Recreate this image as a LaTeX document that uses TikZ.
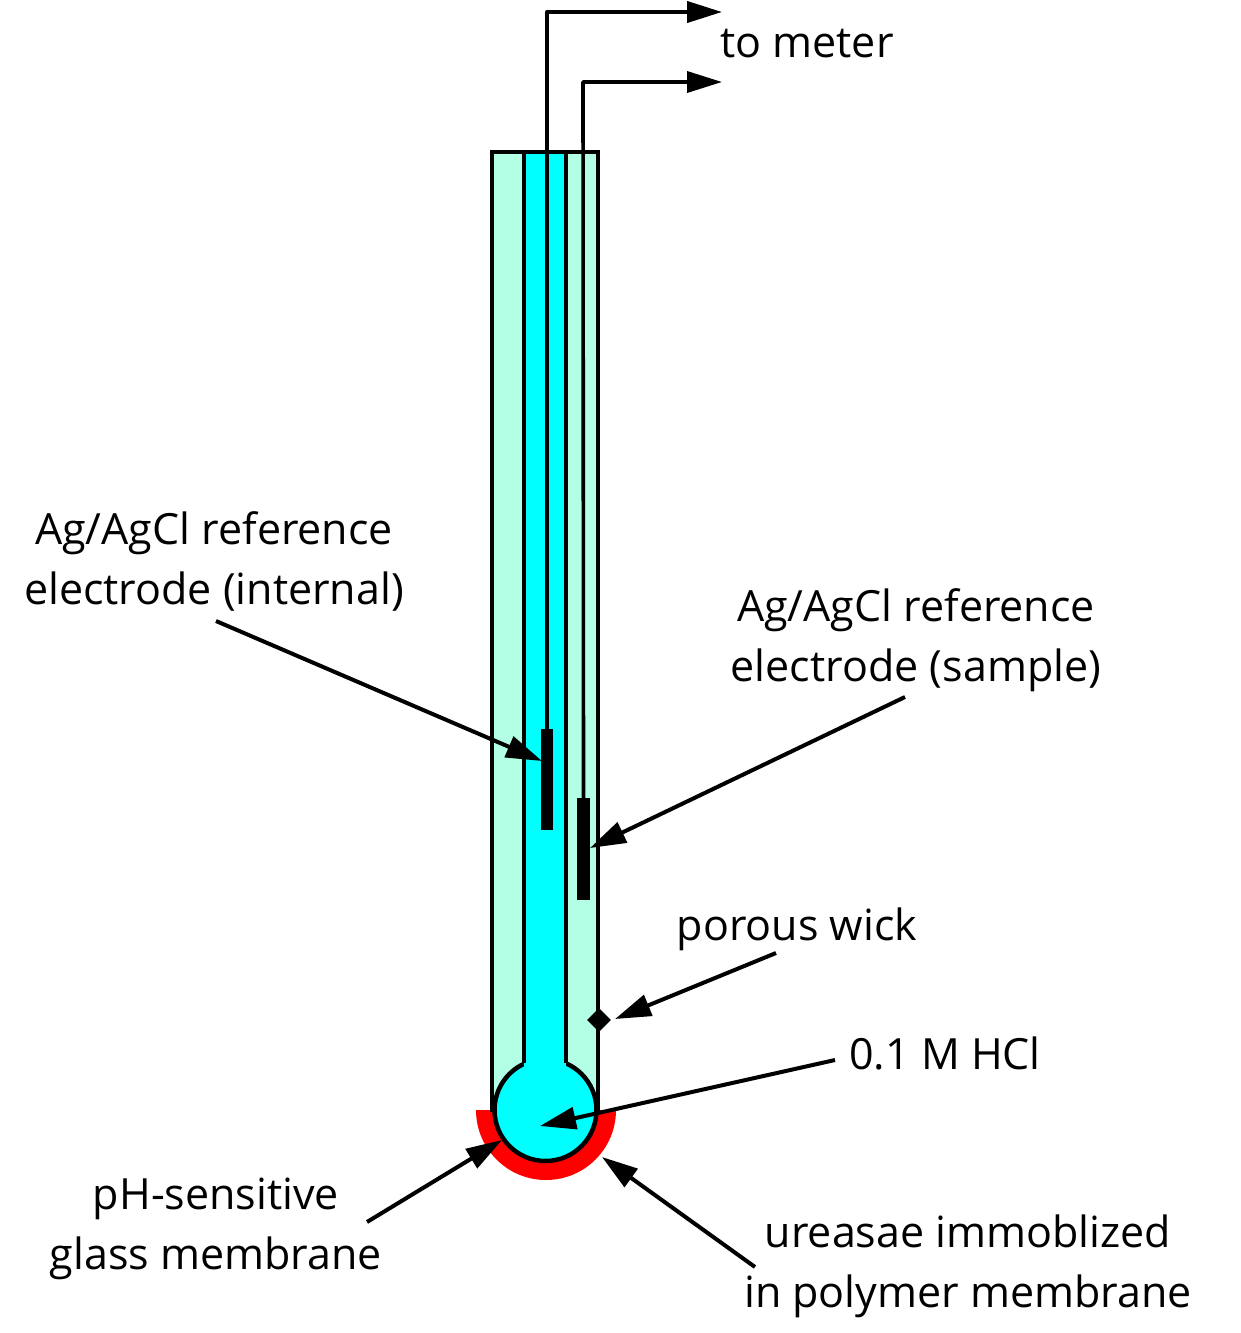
\documentclass[tikz,border=0pt]{standalone}
\usepackage{fontspec}
\setmainfont{Open Sans}
\usetikzlibrary{arrows.meta,shapes.geometric}
\definecolor{mint}{RGB}{178,255,229}
\definecolor{aqua}{RGB}{0,255,255}
\definecolor{redm}{RGB}{255,0,0}
\tikzset{
  x=1pt,y=-1pt,
  wall/.style={draw=black,line width=4.5pt},
  wire/.style={draw=black,line width=4pt,line join=round},
  thinwire/.style={draw=black,line width=3.6pt,line join=round},
  lead/.style={draw=black,line width=4pt,-{Triangle[length=36pt,width=22pt]}},
  meterlead/.style={-{Triangle[length=35pt,width=21pt]}},
  lab/.style={font=\fontsize{43}{60}\selectfont,inner sep=0pt,align=center,text=black},
  block/.style={fill=black,draw=none},
}
\begin{document}
\begin{tikzpicture}
\useasboundingbox (0,0) rectangle (1241,1333);
% membrane
\begin{scope}
\clip (460,1110.5) rectangle (630,1200);
\fill[redm] (546,1110) circle[radius=70];
\end{scope}
% body
\fill[mint] (492,152) rectangle (598,1112);
\draw[wall] (492,152) -- (492,1112);
\draw[wall] (598,152) -- (598,1112);
\draw[wall,fill=aqua] (545.5,1110) circle[radius=51];
\fill[aqua] (524,152) rectangle (566,1075);
\draw[wall] (524,152) -- (524,1063);
\draw[wall] (566,152) -- (566,1063);
\draw[wall,line cap=rect] (492,152) -- (598,152);
% electrodes
\node[block,minimum width=12pt,minimum height=101pt,inner sep=0pt] (int) at (547,779.5) {};
\node[block,minimum width=12.5pt,minimum height=102pt,inner sep=0pt] (sam) at (583.5,849) {};
\node[block,diamond,minimum width=24pt,minimum height=24pt,inner sep=0pt] (wick) at (599,1020) {};
% wires
\coordinate (m1) at (722,12);
\coordinate (m2) at (722,82);
\draw[wire,meterlead] (int.north) -- (547,12) -- (m1);
\draw[thinwire,meterlead] (sam.north) -- (583,82) -- (m2);
% labels
\node[lab] (tometer) at (807,44) {to meter};
\node[lab] (lint) at (214,561) {Ag/AgCl reference\\electrode (internal)};
\node[lab] (lsam) at (916,640) {Ag/AgCl reference\\electrode (sample)};
\node[lab] (lwick) at (797,929) {porous wick};
\node[lab] (lhcl) at (945,1053) {0.1 M HCl};
\node[lab] (lph) at (216,1229) {pH-sensitive\\glass membrane};
\node[lab] (lure) at (968,1266) {ureasae immoblized\\in polymer membrane};
% pointers
\coordinate (a1) at (216,621);
\coordinate (t1) at (542,761);
\coordinate (a2) at (905,697);
\coordinate (t2) at (590,848);
\coordinate (a3) at (776,953);
\coordinate (t3) at (615,1019);
\coordinate (a4) at (835,1060);
\coordinate (t4) at (540,1126);
\coordinate (a5) at (367,1222);
\coordinate (t5) at (502,1140);
\coordinate (a6) at (755,1267);
\coordinate (t6) at (602,1157);
\draw[lead] (a1) -- (t1);
\draw[lead] (a2) -- (t2);
\draw[lead] (a3) -- (t3);
\draw[lead] (a4) -- (t4);
\draw[lead] (a5) -- (t5);
\draw[lead] (a6) -- (t6);
\end{tikzpicture}
\end{document}
